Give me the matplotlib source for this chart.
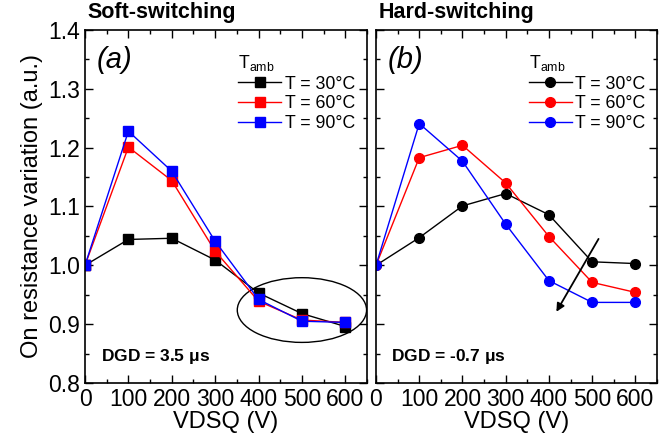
import matplotlib
matplotlib.use("Agg")
import matplotlib.pyplot as plt
from matplotlib.patches import Ellipse
from matplotlib.ticker import MultipleLocator

plt.rcParams['font.family'] = ['Liberation Sans', 'DejaVu Sans']
plt.rcParams['mathtext.fontset'] = 'custom'
plt.rcParams['mathtext.rm'] = 'Liberation Sans'
plt.rcParams['mathtext.it'] = 'Liberation Sans:italic'
plt.rcParams['mathtext.bf'] = 'Liberation Sans:bold'

vdsq = [0, 100, 200, 300, 400, 500, 600]
labels = ["T = 30°C", "T = 60°C", "T = 90°C"]
colors = ["black", "#ff0000", "#0000ff"]

soft_30 = [1.000, 1.044, 1.046, 1.009, 0.953, 0.918, 0.896]
soft_60 = [1.000, 1.201, 1.144, 1.024, 0.939, 0.907, 0.903]
soft_90 = [1.000, 1.228, 1.160, 1.041, 0.942, 0.905, 0.903]

hard_30 = [1.000, 1.047, 1.101, 1.122, 1.086, 1.006, 1.003]
hard_60 = [1.000, 1.183, 1.204, 1.140, 1.049, 0.971, 0.954]
hard_90 = [1.000, 1.241, 1.177, 1.070, 0.974, 0.937, 0.937]

fig = plt.figure(figsize=(6.67, 4.45), dpi=100)
axL = fig.add_axes([85/667, 1-383/445, 282/667, 353/445])
axR = fig.add_axes([376/667, 1-383/445, 281/667, 353/445])

fs_tick = 16.5
fs_label = 17

def style(ax, show_y):
    ax.set_xlim(0, 650)
    ax.set_ylim(0.8, 1.4)
    ax.xaxis.set_major_locator(MultipleLocator(100))
    ax.xaxis.set_minor_locator(MultipleLocator(50))
    ax.yaxis.set_major_locator(MultipleLocator(0.1))
    ax.yaxis.set_minor_locator(MultipleLocator(0.05))
    ax.tick_params(which='both', direction='in', top=True, right=True, labelsize=fs_tick, width=1)
    ax.tick_params(which='major', length=6)
    ax.tick_params(which='minor', length=3)
    if not show_y:
        ax.tick_params(labelleft=False)
    ax.set_xlabel("VDSQ (V)", fontsize=fs_label, labelpad=0)
    for s in ax.spines.values():
        s.set_linewidth(1.2)

for ys, c, l in zip([soft_30, soft_60, soft_90], colors, labels):
    axL.plot(vdsq, ys, color=c, marker='s', markersize=6.5, lw=1, label=l)
for ys, c, l in zip([hard_30, hard_60, hard_90], colors, labels):
    axR.plot(vdsq, ys, color=c, marker='o', markersize=7, lw=1, label=l)

style(axL, True)
style(axR, False)
axL.set_ylabel("On resistance variation (a.u.)", fontsize=fs_label, labelpad=4)

for ax, title, tag, dgd in [(axL, "Soft-switching", "(a)", r"DGD = 3.5 $\mathbf{\mu}$s"),
                            (axR, "Hard-switching", "(b)", r"DGD = -0.7 $\mathbf{\mu}$s")]:
    ax.text(0.008, 1.02, title, transform=ax.transAxes, fontsize=15.5, fontweight='bold',
            ha='left', va='bottom')
    ax.text(0.04, 0.915, tag, transform=ax.transAxes, fontsize=21, style='italic',
            ha='left', va='center')
    ax.text(0.055, 0.074, dgd, transform=ax.transAxes, fontsize=12.5, fontweight='bold',
            ha='left', va='center')
    leg = ax.legend(loc='upper left', bbox_to_anchor=(0.50, 0.97), frameon=False,
                    fontsize=12.8, title=r"T$_{\mathregular{amb}}$", title_fontsize=12.8,
                    handlelength=2.4, handletextpad=0.2, labelspacing=0.15, borderpad=0.2,
                    alignment='left')

axL.add_patch(Ellipse((500, 0.924), 298, 0.110, fill=False, edgecolor='black', lw=1))
axR.annotate('', xy=(414, 0.917), xytext=(518, 1.049),
             arrowprops=dict(arrowstyle='-|>', color='black', lw=1.3, mutation_scale=12))

fig.savefig("out.png", dpi=100)
